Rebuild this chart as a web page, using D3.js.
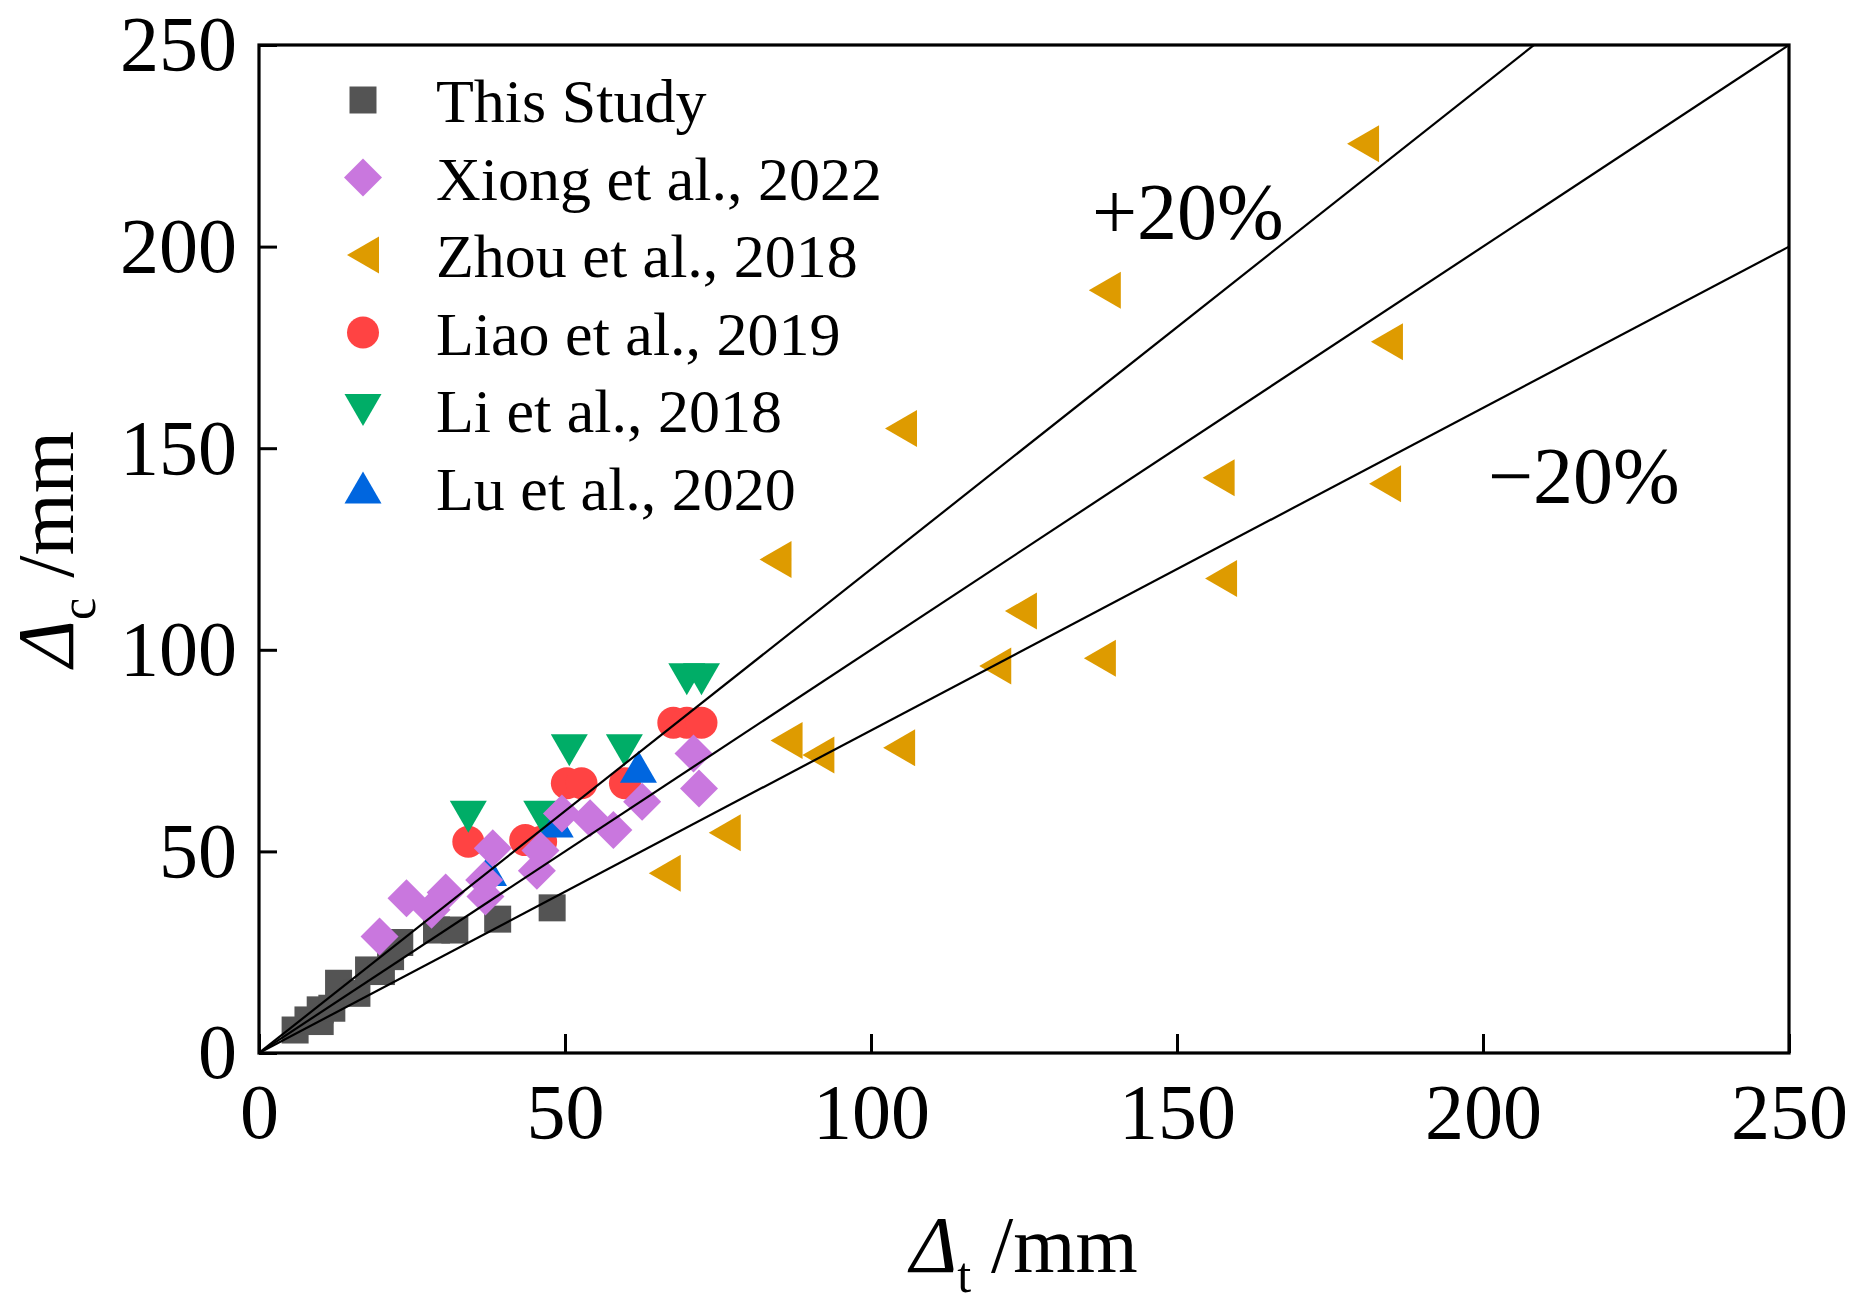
<!DOCTYPE html>
<html>
<head>
<meta charset="utf-8">
<script src="https://cdn.jsdelivr.net/npm/d3@7"></script>
<style>
  body { margin: 0; background: #fff; }
  text { font-family: "Liberation Serif", "Times New Roman", serif; fill: #000; }
</style>
</head>
<body>
<svg width="1864" height="1307"></svg>
<script>
// values (mm)
var thisStudyX = [5.9, 8.0, 10.0, 10.0, 11.9, 13.0, 16.0, 17.9, 20.0, 21.5, 23.0, 29.0, 32.0, 39.0, 47.9];
var thisStudyY = [5.7, 8.2, 10.7, 7.8, 11.1, 17.3, 14.8, 20.6, 20.2, 23.9, 27.4, 30.5, 30.5, 33.2, 36.0];
var xiongX = [19.7, 24.1, 28.2, 30.5, 36.8, 37.0, 38.2, 45.4, 46.0, 49.5, 54.1, 57.9, 62.6, 71.0, 71.9];
var xiongY = [28.9, 38.4, 35.5, 39.8, 42.9, 38.8, 50.8, 45.2, 50.2, 59.4, 58.2, 55.3, 62.3, 74.3, 65.6];
var zhouX = [180.4, 138.2, 184.3, 104.9, 156.8, 184.0, 84.4, 157.2, 124.5, 120.3, 137.4, 86.2, 91.4, 104.6, 76.1, 66.3];
var zhouY = [225.5, 189.2, 176.4, 154.9, 142.7, 141.2, 122.4, 117.7, 109.6, 96.0, 97.9, 77.5, 73.9, 75.7, 54.6, 44.6];
var liaoX = [34.2, 43.5, 46.1, 50.3, 52.7, 59.8, 67.7, 69.9, 72.3];
var liaoY = [52.4, 52.8, 52.4, 66.9, 66.9, 66.9, 81.9, 81.9, 81.9];
var liX = [34.2, 46.2, 50.7, 59.7, 69.9, 72.3];
var liY = [58.6, 58.6, 75.1, 75.1, 92.7, 92.7];
var luX = [37.5, 48.4, 62.0];
var luY = [45.4, 57.4, 71.0];

var legendNames = ["This Study", "Xiong et al., 2022", "Zhou et al., 2018",
                   "Liao et al., 2019", "Li et al., 2018", "Lu et al., 2020"];
var ticks = [0, 50, 100, 150, 200, 250];
var ratios = [1.2, 1.0, 0.8];

var svg = d3.select("svg");
var L = 259, R = 1789, T = 45, B = 1053;

var scX = d3.scaleLinear().domain([0, 250]).range([L, R]);
var scY = d3.scaleLinear().domain([0, 250]).range([B, T]);

// marker paths centred on their box
var shapes = {
    square:  "M-13.5,-13.5H13.5V13.5H-13.5Z",
    diamond: "M0,-19L19,0L0,19L-19,0Z",
    left:    "M-16,0L16,-18.5L16,18.5Z",
    circle:  "M-16,0A16,16 0 1,0 16,0A16,16 0 1,0 -16,0Z",
    down:    "M-18.5,-16L18.5,-16L0,16Z",
    up:      "M-18.5,16L18.5,16L0,-16Z"
};

var series = [
    { name: legendNames[0], xs: thisStudyX, ys: thisStudyY, shape: "square",  color: "#545454" },
    { name: legendNames[1], xs: xiongX,     ys: xiongY,     shape: "diamond", color: "#C977DE" },
    { name: legendNames[2], xs: zhouX,      ys: zhouY,      shape: "left",    color: "#DE9B00" },
    { name: legendNames[3], xs: liaoX,      ys: liaoY,      shape: "circle",  color: "#FF4343" },
    { name: legendNames[4], xs: liX,        ys: liY,        shape: "down",    color: "#00AD67" },
    { name: legendNames[5], xs: luX,        ys: luY,        shape: "up",      color: "#0066DF" }
];

svg.append("clipPath").attr("id", "plotclip")
    .append("rect").attr("x", L).attr("y", T).attr("width", R - L).attr("height", B - T);

// drawing order: squares, circles, up, down, diamonds, left triangles
var drawOrder = [0, 3, 5, 4, 1, 2];
var gPts = svg.append("g").attr("clip-path", "url(#plotclip)");
drawOrder.forEach(function(i) {
    var s = series[i];
    var pts = s.xs.map(function(x, j) { return { x: x, y: s.ys[j] }; });
    gPts.append("g").selectAll("path")
        .data(pts).enter().append("path")
        .attr("d", shapes[s.shape])
        .attr("fill", s.color)
        .attr("transform", d => "translate(" + scX(d.x) + "," + scY(d.y) + ")");
});

// +-20% and 1:1 lines
var lineMaker = d3.line().x(d => scX(d[0])).y(d => scY(d[1]));
svg.append("g").attr("clip-path", "url(#plotclip)")
    .selectAll("path").data(ratios).enter().append("path")
    .attr("fill", "none").attr("stroke", "#000").attr("stroke-width", 2.2)
    .attr("d", k => lineMaker([[0, 0], [250, 250 * k]]));

// axes
var xAxis = d3.axisBottom(scX).tickValues(ticks).tickSizeInner(-19).tickSizeOuter(0).tickPadding(30);
var yAxis = d3.axisLeft(scY).tickValues(ticks).tickSizeInner(-18).tickSizeOuter(0).tickPadding(22);

var gx = svg.append("g").attr("transform", "translate(0," + B + ")").call(xAxis);
var gy = svg.append("g").attr("transform", "translate(" + L + ",0)").call(yAxis);
[gx, gy].forEach(function(g) {
    g.select(".domain").remove();
    g.selectAll("line").attr("stroke", "#000").attr("stroke-width", 3);
    g.selectAll("text").attr("font-size", 78).attr("font-family", null).attr("fill", "#000");
});

svg.append("rect").attr("x", L).attr("y", T).attr("width", R - L).attr("height", B - T)
    .attr("fill", "none").attr("stroke", "#000").attr("stroke-width", 3.2);

// axis titles
var xt = svg.append("text").attr("x", (L + R) / 2).attr("y", 1272)
    .attr("text-anchor", "middle").attr("font-size", 80);
xt.append("tspan").attr("font-style", "italic").text("Δ");
xt.append("tspan").attr("font-size", 50).attr("dy", 20).text("t");
xt.append("tspan").attr("dy", -20).text(" /mm");

var yt = svg.append("text").attr("transform", "translate(73," + (T + B) / 2 + ") rotate(-90)")
    .attr("text-anchor", "middle").attr("font-size", 80);
yt.append("tspan").attr("font-style", "italic").text("Δ");
yt.append("tspan").attr("font-size", 50).attr("dy", 22).text("c");
yt.append("tspan").attr("dy", -22).text(" /mm");

// band labels
svg.append("text").attr("x", 1092).attr("y", 239).attr("font-size", 80).text("+20%");
svg.append("text").attr("x", 1488).attr("y", 503).attr("font-size", 80).text("\u221220%");

// legend
var gLeg = svg.append("g");
series.forEach(function(s, i) {
    var cy = 100 + i * 77.5;
    gLeg.append("path").attr("d", shapes[s.shape]).attr("fill", s.color)
        .attr("transform", "translate(363," + cy + ")");
    gLeg.append("text").attr("x", 436).attr("y", cy + 22).attr("font-size", 62).text(s.name);
});
</script>
</body>
</html>
